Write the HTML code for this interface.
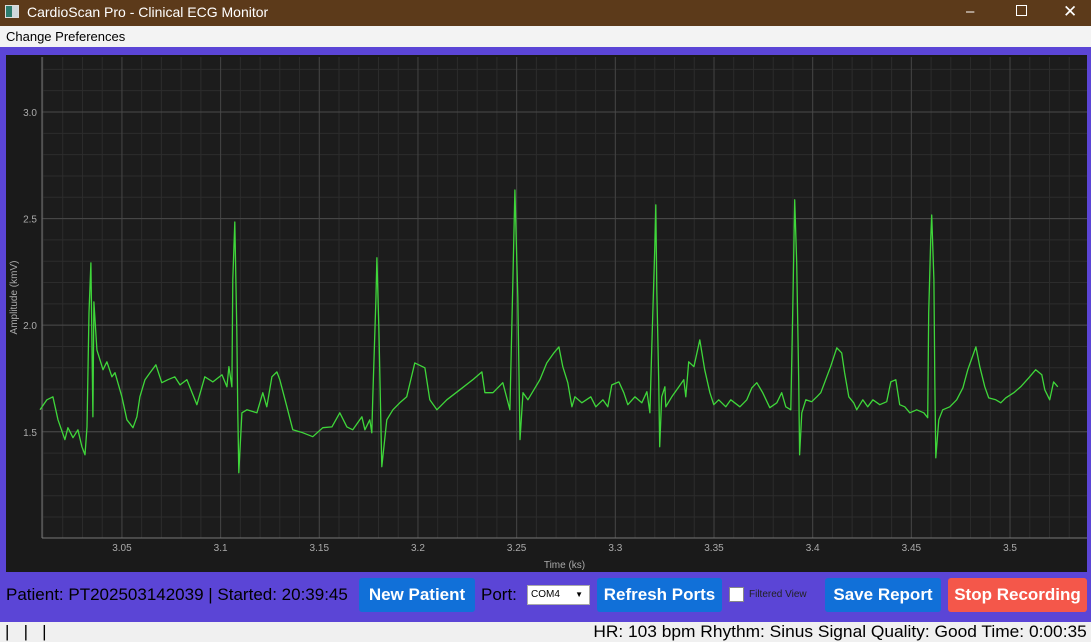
<!DOCTYPE html>
<html><head><meta charset="utf-8">
<style>
*{margin:0;padding:0;box-sizing:border-box}
body{width:1091px;height:642px;overflow:hidden;font-family:"Liberation Sans",sans-serif;background:#5b45d6;position:relative}
#titlebar{position:absolute;left:0;top:0;width:1091px;height:26px;background:#5c3a1a;color:#fff;font-size:14px}
#menubar{position:absolute;left:0;top:26px;width:1091px;height:21px;background:#f3f3f3;font-size:13px;color:#000}
#chart{position:absolute;left:6px;top:55px}
.btn{position:absolute;top:578px;height:34px;color:#fff;font-weight:bold;font-size:17px;line-height:34px;text-align:center;border-radius:3px}
#status{position:absolute;left:0;top:622px;width:1091px;height:20px;background:#f0f0f0;font-size:17px;color:#000}
</style></head><body>
<div id="titlebar">
  <div style="position:absolute;left:5px;top:5px;width:14px;height:13px;background:#cfd8dc;border:1px solid #ddd"><div style="width:6px;height:11px;background:#2e7d6e"></div></div>
  <span style="position:absolute;left:27px;top:4px">CardioScan Pro - Clinical ECG Monitor</span>
  <span style="position:absolute;left:966px;top:3px;font-size:15px">&#8211;</span>
  <span style="position:absolute;left:1016px;top:5px;width:11px;height:11px;border:1px solid #fff"></span>
  <span style="position:absolute;left:1063px;top:2px;font-size:17px">&#10005;</span>
</div>
<div id="menubar"><span style="position:absolute;left:6px;top:3px">Change Preferences</span></div>
<svg id="chart" width="1081" height="517"></svg>
<div style="position:absolute;left:6px;top:585px;font-size:17px;color:#000">Patient: PT202503142039 | Started: 20:39:45</div>
<div class="btn" style="left:359px;width:116px;background:#1170d8">New Patient</div>
<div style="position:absolute;left:481px;top:585px;font-size:17px;color:#000">Port:</div>
<div style="position:absolute;left:527px;top:585px;width:63px;height:20px;background:#fff;border:1px solid #aaa;font-size:10px;line-height:18px;padding-left:3px;color:#000">COM4<span style="position:absolute;right:6px;top:0;font-size:8px">&#9660;</span></div>
<div class="btn" style="left:597px;width:125px;background:#1170d8">Refresh Ports</div>
<div style="position:absolute;left:729px;top:587px;width:15px;height:15px;background:#fff;border:1px solid #888"></div>
<div style="position:absolute;left:749px;top:589px;font-size:10px;color:#222">Filtered View</div>
<div class="btn" style="left:825px;width:116px;background:#1170d8">Save Report</div>
<div class="btn" style="left:948px;width:139px;background:#f4574a">Stop Recording</div>
<div id="status">
  <span style="position:absolute;left:5px;top:0px">|&nbsp;&nbsp;&nbsp;|&nbsp;&nbsp;&nbsp;|</span>
  <span style="position:absolute;right:4px;top:0px;transform:scaleX(1.02);transform-origin:right center">HR: 103 bpm Rhythm: Sinus Signal Quality: Good Time: 0:00:35</span>
</div>
<script>
const timeValues=[3.0085,3.0120,3.0150,3.0176,3.0211,3.0226,3.0252,3.0277,3.0297,3.0313,3.0323,3.0333,3.0343,3.0353,3.0358,3.0373,3.0404,3.0424,3.0449,3.0465,3.0500,3.0525,3.0556,3.0576,3.0591,3.0617,3.0642,3.0672,3.0702,3.0733,3.0768,3.0794,3.0829,3.0880,3.0920,3.0961,3.1007,3.1032,3.1042,3.1057,3.1062,3.1072,3.1082,3.1087,3.1092,3.1108,3.1133,3.1184,3.1214,3.1234,3.1260,3.1285,3.1300,3.1336,3.1366,3.1417,3.1467,3.1518,3.1564,3.1604,3.1640,3.1670,3.1716,3.1731,3.1756,3.1766,3.1771,3.1787,3.1792,3.1802,3.1817,3.1842,3.1873,3.1908,3.1943,3.1984,3.2035,3.2060,3.2096,3.2146,3.2212,3.2278,3.2324,3.2339,3.2380,3.2430,3.2466,3.2481,3.2491,3.2506,3.2517,3.2532,3.2557,3.2618,3.2653,3.2689,3.2714,3.2734,3.2759,3.2780,3.2795,3.2830,3.2876,3.2901,3.2937,3.2962,3.2982,3.3018,3.3043,3.3063,3.3099,3.3134,3.3160,3.3175,3.3185,3.3200,3.3205,3.3210,3.3220,3.3225,3.3235,3.3251,3.3256,3.3286,3.3322,3.3347,3.3357,3.3372,3.3398,3.3428,3.3453,3.3479,3.3499,3.3524,3.3560,3.3585,3.3631,3.3666,3.3692,3.3717,3.3747,3.3783,3.3818,3.3843,3.3864,3.3889,3.3899,3.3909,3.3919,3.3929,3.3934,3.3945,3.3965,3.3995,3.4021,3.4041,3.4066,3.4091,3.4122,3.4147,3.4162,3.4183,3.4208,3.4223,3.4254,3.4279,3.4305,3.4340,3.4375,3.4396,3.4421,3.4441,3.4467,3.4492,3.4527,3.4563,3.4583,3.4588,3.4598,3.4603,3.4614,3.4619,3.4624,3.4639,3.4659,3.4695,3.4730,3.4761,3.4786,3.4827,3.4847,3.4872,3.4892,3.4928,3.4953,3.4978,3.5019,3.5054,3.5095,3.5130,3.5161,3.5176,3.5201,3.5221,3.5242];
const amplitudeValues=[1.603,1.650,1.664,1.556,1.463,1.519,1.472,1.509,1.430,1.392,1.523,2.058,2.292,1.570,2.109,1.884,1.791,1.828,1.758,1.777,1.664,1.556,1.519,1.570,1.664,1.744,1.777,1.814,1.730,1.744,1.758,1.720,1.744,1.627,1.758,1.734,1.767,1.711,1.805,1.711,2.213,2.484,1.978,1.589,1.308,1.589,1.603,1.589,1.683,1.617,1.758,1.781,1.744,1.617,1.509,1.495,1.477,1.519,1.523,1.589,1.523,1.509,1.570,1.509,1.556,1.495,1.664,2.119,2.316,1.978,1.336,1.556,1.603,1.636,1.664,1.823,1.800,1.650,1.603,1.650,1.697,1.744,1.781,1.683,1.683,1.730,1.603,2.213,2.634,2.133,1.463,1.683,1.650,1.744,1.823,1.870,1.898,1.805,1.730,1.617,1.664,1.636,1.664,1.617,1.650,1.617,1.720,1.734,1.683,1.627,1.664,1.636,1.688,1.589,1.898,2.367,2.564,2.166,1.744,1.430,1.664,1.711,1.617,1.664,1.711,1.744,1.664,1.828,1.805,1.931,1.791,1.683,1.627,1.650,1.617,1.650,1.617,1.650,1.706,1.730,1.683,1.613,1.636,1.683,1.617,1.603,2.058,2.588,2.292,1.744,1.392,1.589,1.650,1.641,1.664,1.683,1.744,1.805,1.894,1.870,1.777,1.664,1.636,1.603,1.650,1.617,1.650,1.627,1.641,1.734,1.744,1.627,1.617,1.589,1.603,1.589,1.566,2.058,2.400,2.517,2.213,1.744,1.378,1.556,1.603,1.617,1.650,1.706,1.791,1.898,1.805,1.711,1.659,1.650,1.636,1.659,1.683,1.711,1.753,1.791,1.767,1.697,1.650,1.734,1.711];
const xTicks=[3.05,3.1,3.15,3.2,3.25,3.3,3.35,3.4,3.45,3.5];
const xTickLabels=["3.05","3.1","3.15","3.2","3.25","3.3","3.35","3.4","3.45","3.5"];
const yTicks=[1.5,2.0,2.5,3.0];
const yTickLabels=["1.5","2.0","2.5","3.0"];
const xMin=3.0095,xMax=3.539,yMin=1.0016,yMax=3.258;
const svg=document.getElementById('chart');
const NS='http://www.w3.org/2000/svg';
const L=36,T=2,R=1081,B=483;
function xs(t){return L+(t-xMin)/(xMax-xMin)*(R-L);}
function ys(v){return B-(v-yMin)/(yMax-yMin)*(B-T);}
function mk(tag,attrs){const e=document.createElementNS(NS,tag);for(const k in attrs)e.setAttribute(k,attrs[k]);svg.appendChild(e);return e;}
const bg=mk('rect',{x:0,y:0,width:1081,height:517,fill:'#1a1a1a'});


const pa=mk('rect',{x:L,y:T,width:R-L,height:B-T,fill:'#1c1c1c'});


for(let t=3.01;t<xMax;t+=0.01){const g=mk('line',{x1:xs(t),x2:xs(t),y1:T,y2:B,stroke:'#2c2c2c','stroke-width':1});

}
for(let v=1.1;v<yMax;v+=0.1){const g=mk('line',{x1:L,x2:R,y1:ys(v),y2:ys(v),stroke:'#2c2c2c','stroke-width':1});

}
xTicks.forEach((t,i)=>{const g=mk('line',{x1:xs(t),x2:xs(t),y1:T,y2:B,stroke:'#444','stroke-width':1});


const tx=mk('text',{x:xs(t),y:B+13,fill:'#aaa','font-size':10,'text-anchor':'middle','font-family':'Liberation Sans, sans-serif'});tx.textContent=xTickLabels[i];

});
yTicks.forEach((v,i)=>{const g=mk('line',{x1:L,x2:R,y1:ys(v),y2:ys(v),stroke:'#4a4a4a','stroke-width':1});


const tx=mk('text',{x:L-5,y:ys(v)+4,fill:'#aaa','font-size':10,'text-anchor':'end','font-family':'Liberation Sans, sans-serif'});tx.textContent=yTickLabels[i];

});
const ax=mk('line',{x1:L,x2:L,y1:T,y2:B,stroke:'#777','stroke-width':1});


const ax2=mk('line',{x1:L,x2:R,y1:B,y2:B,stroke:'#777','stroke-width':1});


const xt=mk('text',{x:(L+R)/2,y:B+30,fill:'#aaa','font-size':10,'text-anchor':'middle','font-family':'Liberation Sans, sans-serif'});xt.textContent='Time (ks)';


const yt=mk('text',{x:0,y:0,fill:'#aaa','font-size':10,'text-anchor':'middle','font-family':'Liberation Sans, sans-serif',transform:'translate(11,'+((T+B)/2)+') rotate(-90)'});yt.textContent='Amplitude (kmV)';


let d='';timeValues.forEach((t,i)=>{d+=(i?'L':'M')+xs(t).toFixed(1)+' '+ys(amplitudeValues[i]).toFixed(1);});
const ln=mk('path',{d:d,fill:'none',stroke:'#3fd63a','stroke-width':1.3,'stroke-linejoin':'round'});


</script>
</body></html>
